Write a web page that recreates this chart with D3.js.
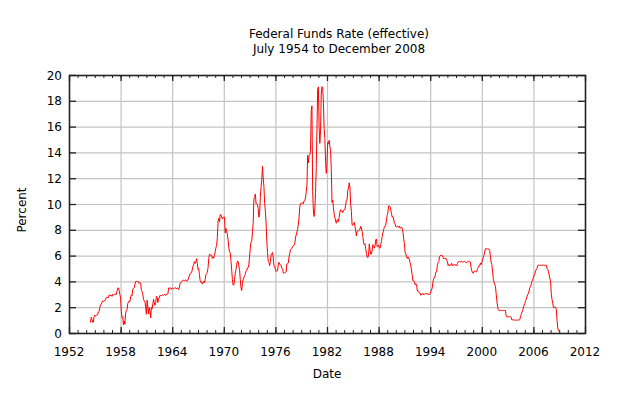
<!DOCTYPE html>
<html>
<head>
<meta charset="utf-8">
<script src="https://cdn.jsdelivr.net/npm/d3@7"></script>
<style>
  body { margin: 0; background: #fff; }
  text { font-family: "DejaVu Sans", sans-serif; font-size: 12px; fill: #000; }
</style>
</head>
<body>
<div id="chart"></div>
<script>
// monthly effective rate, starting July 1954
const startYear = 1954, startMonth = 7;
const rates = [
  0.80, 1.22, 1.06, 0.85, 0.83, 1.28,                                     // 1954
  1.39, 1.29, 1.35, 1.43, 1.43, 1.64, 1.68, 1.96, 2.18, 2.24, 2.35, 2.48, // 1955
  2.45, 2.50, 2.50, 2.62, 2.75, 2.71, 2.75, 2.73, 2.95, 2.96, 2.88, 2.94, // 1956
  2.84, 3.00, 2.96, 3.00, 3.00, 3.00, 2.99, 3.24, 3.47, 3.50, 3.28, 2.98, // 1957
  2.72, 1.67, 1.20, 1.26, 0.63, 0.93, 0.68, 1.53, 1.76, 1.80, 2.27, 2.42, // 1958
  2.48, 2.43, 2.80, 2.96, 2.90, 3.39, 3.47, 3.50, 3.76, 3.98, 4.00, 3.99, // 1959
  3.99, 3.97, 3.84, 3.92, 3.85, 3.32, 3.23, 2.98, 2.60, 2.47, 2.44, 1.98, // 1960
  1.45, 2.54, 2.02, 1.49, 1.98, 1.73, 1.17, 2.00, 1.88, 2.26, 2.61, 2.33, // 1961
  2.15, 2.37, 2.85, 2.78, 2.36, 2.68, 2.71, 2.93, 2.90, 2.90, 2.94, 2.93, // 1962
  2.92, 3.00, 2.98, 2.90, 3.00, 2.99, 3.02, 3.49, 3.48, 3.50, 3.48, 3.38, // 1963
  3.48, 3.48, 3.43, 3.47, 3.50, 3.50, 3.42, 3.50, 3.45, 3.36, 3.52, 3.85, // 1964
  3.90, 3.98, 4.04, 4.09, 4.10, 4.04, 4.09, 4.12, 4.01, 4.08, 4.10, 4.32, // 1965
  4.42, 4.60, 4.65, 4.67, 4.90, 5.17, 5.30, 5.53, 5.40, 5.53, 5.76, 5.40, // 1966
  4.94, 5.00, 4.53, 4.05, 3.94, 3.98, 3.79, 3.90, 3.99, 3.88, 4.13, 4.51, // 1967
  4.60, 4.71, 5.05, 5.76, 6.11, 6.07, 6.03, 6.03, 5.78, 5.91, 5.82, 6.02, // 1968
  6.30, 6.61, 6.79, 7.41, 8.67, 8.90, 8.61, 9.19, 9.15, 9.00, 8.85, 8.97, // 1969
  8.98, 8.98, 7.76, 8.10, 7.94, 7.60, 7.21, 6.61, 6.29, 6.20, 5.60, 4.90, // 1970
  4.14, 3.72, 3.71, 4.16, 4.63, 4.91, 5.31, 5.56, 5.55, 5.20, 4.91, 4.14, // 1971
  3.50, 3.29, 3.83, 4.17, 4.27, 4.46, 4.55, 4.80, 4.87, 5.04, 5.06, 5.33, // 1972
  5.94, 6.58, 7.09, 7.12, 7.84, 8.49, 10.40, 10.50, 10.78, 10.01, 10.03, 9.95, // 1973
  9.65, 8.97, 9.35, 10.51, 11.31, 11.93, 12.92, 12.01, 11.34, 10.06, 9.45, 8.53, // 1974
  7.13, 6.24, 5.54, 5.49, 5.22, 5.55, 6.10, 6.14, 6.24, 5.82, 5.22, 5.20, // 1975
  4.87, 4.77, 4.84, 4.82, 5.29, 5.48, 5.31, 5.29, 5.25, 5.02, 4.95, 4.65, // 1976
  4.61, 4.68, 4.69, 4.73, 5.35, 5.39, 5.42, 5.90, 6.14, 6.47, 6.51, 6.56, // 1977
  6.70, 6.78, 6.79, 6.89, 7.36, 7.60, 7.81, 8.04, 8.45, 8.96, 9.76, 10.03, // 1978
  10.07, 10.06, 10.09, 10.01, 10.24, 10.29, 10.47, 10.94, 11.43, 13.77, 13.18, 13.78, // 1979
  13.82, 14.13, 17.19, 17.61, 10.98, 9.47, 9.03, 9.61, 10.87, 12.81, 15.85, 18.90, // 1980
  19.08, 15.93, 14.70, 15.72, 18.52, 19.10, 19.04, 17.82, 15.87, 15.08, 13.31, 12.37, // 1981
  13.22, 14.78, 14.68, 14.94, 14.45, 14.15, 12.59, 10.12, 10.31, 9.71, 9.20, 8.95, // 1982
  8.68, 8.51, 8.77, 8.80, 8.63, 8.98, 9.37, 9.56, 9.45, 9.48, 9.34, 9.47, // 1983
  9.56, 9.59, 9.91, 10.29, 10.32, 11.06, 11.23, 11.64, 11.30, 9.99, 9.43, 8.38, // 1984
  8.35, 8.50, 8.58, 8.27, 7.97, 7.53, 7.88, 7.90, 7.92, 7.99, 8.05, 8.27, // 1985
  8.14, 7.86, 7.48, 6.99, 6.85, 6.92, 6.56, 6.17, 5.89, 5.85, 6.04, 6.91, // 1986
  6.43, 6.10, 6.13, 6.37, 6.85, 6.73, 6.58, 6.73, 7.22, 7.29, 6.69, 6.77, // 1987
  6.83, 6.58, 6.58, 6.87, 7.09, 7.51, 7.75, 8.01, 8.19, 8.30, 8.35, 8.76, // 1988
  9.12, 9.36, 9.85, 9.84, 9.81, 9.53, 9.24, 8.99, 9.02, 8.84, 8.55, 8.45, // 1989
  8.23, 8.24, 8.28, 8.26, 8.18, 8.29, 8.15, 8.13, 8.20, 8.11, 7.81, 7.31, // 1990
  6.91, 6.25, 6.12, 5.91, 5.78, 5.90, 5.82, 5.66, 5.45, 5.21, 4.81, 4.43, // 1991
  4.03, 4.06, 3.98, 3.73, 3.82, 3.76, 3.25, 3.30, 3.22, 3.10, 3.09, 2.92, // 1992
  3.02, 3.03, 3.07, 2.96, 3.00, 3.04, 3.06, 3.03, 3.09, 2.99, 3.02, 2.96, // 1993
  3.05, 3.25, 3.34, 3.56, 4.01, 4.25, 4.26, 4.47, 4.73, 4.76, 5.29, 5.45, // 1994
  5.53, 5.92, 5.98, 6.05, 6.01, 6.00, 5.85, 5.74, 5.80, 5.76, 5.80, 5.60, // 1995
  5.56, 5.22, 5.31, 5.22, 5.24, 5.27, 5.40, 5.22, 5.30, 5.24, 5.31, 5.29, // 1996
  5.25, 5.19, 5.39, 5.51, 5.50, 5.56, 5.52, 5.54, 5.54, 5.50, 5.52, 5.50, // 1997
  5.56, 5.51, 5.49, 5.45, 5.49, 5.56, 5.54, 5.55, 5.51, 5.07, 4.83, 4.68, // 1998
  4.63, 4.76, 4.81, 4.74, 4.74, 4.76, 4.99, 5.07, 5.22, 5.20, 5.42, 5.30, // 1999
  5.45, 5.73, 5.85, 6.02, 6.27, 6.53, 6.54, 6.50, 6.52, 6.51, 6.51, 6.40, // 2000
  5.98, 5.49, 5.31, 4.80, 4.21, 3.97, 3.77, 3.65, 3.07, 2.49, 2.09, 1.82, // 2001
  1.73, 1.74, 1.73, 1.75, 1.75, 1.75, 1.73, 1.74, 1.75, 1.75, 1.34, 1.24, // 2002
  1.24, 1.26, 1.25, 1.26, 1.26, 1.22, 1.01, 1.03, 1.01, 1.01, 1.00, 0.98, // 2003
  1.00, 1.01, 1.00, 1.00, 1.00, 1.03, 1.26, 1.43, 1.61, 1.76, 1.93, 2.16, // 2004
  2.28, 2.50, 2.63, 2.79, 3.00, 3.04, 3.26, 3.50, 3.62, 3.78, 4.00, 4.16, // 2005
  4.29, 4.49, 4.59, 4.79, 4.94, 4.99, 5.24, 5.25, 5.25, 5.25, 5.25, 5.24, // 2006
  5.25, 5.26, 5.26, 5.25, 5.25, 5.25, 5.26, 5.02, 4.94, 4.76, 4.49, 4.24, // 2007
  3.94, 2.98, 2.61, 2.28, 1.98, 2.00, 2.01, 2.00, 1.81, 0.97, 0.39, 0.16  // 2008
];
const xTicks = [1952, 1958, 1964, 1970, 1976, 1982, 1988, 1994, 2000, 2006, 2012];
const yTicks = [0, 2, 4, 6, 8, 10, 12, 14, 16, 18, 20];
const titleLines = ["Federal Funds Rate (effective)", "July 1954 to December 2008"];

const W = 620, H = 398;
const margin = { top: 75, right: 35, bottom: 65, left: 69 };
const width = W - margin.left - margin.right,
  height = H - margin.top - margin.bottom;

const data = rates.map((v, i) => ({
  t: startYear + (startMonth - 1 + i) / 12,
  v: v
}));

const svg = d3.select("#chart").append("svg")
  .attr("width", W).attr("height", H);

const g = svg.append("g")
  .attr("transform", `translate(${margin.left}, ${margin.top})`);

const x = d3.scaleLinear().domain([1952, 2012]).range([0, width]);
const y = d3.scaleLinear().domain([0, 20]).range([height, 0]);

// grid
g.append("g").selectAll("line")
  .data(xTicks.slice(1, -1))
  .join("line")
  .attr("x1", d => x(d) + 0.5).attr("x2", d => x(d) + 0.5)
  .attr("y1", 0).attr("y2", height)
  .attr("stroke", "#c4c4c4").attr("stroke-width", 1.2);
g.append("g").selectAll("line")
  .data(yTicks.slice(1, -1))
  .join("line")
  .attr("y1", d => y(d) + 0.5).attr("y2", d => y(d) + 0.5)
  .attr("x1", 0).attr("x2", width)
  .attr("stroke", "#c4c4c4").attr("stroke-width", 1.2);

// axes: ticks pointing inward on all four sides
const minor = d3.range(1953, 2012);
const tickG = g.append("g").attr("stroke", "#222").attr("stroke-width", 1);
tickG.selectAll(".minb").data(minor).join("line")
  .attr("x1", d => x(d) + 0.5).attr("x2", d => x(d) + 0.5)
  .attr("y1", height).attr("y2", height - 3);
tickG.selectAll(".mint").data(minor).join("line")
  .attr("x1", d => x(d) + 0.5).attr("x2", d => x(d) + 0.5)
  .attr("y1", 0).attr("y2", 3);
tickG.selectAll(".majb").data(xTicks).join("line")
  .attr("x1", d => x(d) + 0.5).attr("x2", d => x(d) + 0.5)
  .attr("y1", height).attr("y2", height - 6).attr("stroke-width", 1.3);
tickG.selectAll(".majt").data(xTicks).join("line")
  .attr("x1", d => x(d) + 0.5).attr("x2", d => x(d) + 0.5)
  .attr("y1", 0).attr("y2", 6).attr("stroke-width", 1.3);
tickG.selectAll(".yl").data(yTicks).join("line")
  .attr("y1", d => y(d) + 0.5).attr("y2", d => y(d) + 0.5)
  .attr("x1", 0).attr("x2", 7).attr("stroke-width", 1.3);
tickG.selectAll(".yr").data(yTicks).join("line")
  .attr("y1", d => y(d) + 0.5).attr("y2", d => y(d) + 0.5)
  .attr("x1", width).attr("x2", width - 7).attr("stroke-width", 1.3);

// tick labels
g.append("g").selectAll("text").data(xTicks).join("text")
  .attr("x", d => x(d)).attr("y", height + 23)
  .attr("text-anchor", "middle")
  .text(d => d);
g.append("g").selectAll("text").data(yTicks).join("text")
  .attr("x", -7).attr("y", d => y(d) + 4.5)
  .attr("text-anchor", "end")
  .text(d => d);

// the series
g.append("path")
  .datum(data)
  .attr("fill", "none")
  .attr("stroke", "#ff0000")
  .attr("stroke-width", 1)
  .attr("d", d3.line().x(d => x(d.t)).y(d => y(d.v)));

// border
g.append("rect")
  .attr("x", 0.5).attr("y", 0.5)
  .attr("width", width).attr("height", height)
  .attr("fill", "none").attr("stroke", "#222").attr("stroke-width", 1.6);

// labels
svg.selectAll(".title").data(titleLines).join("text")
  .attr("x", 339).attr("y", (d, i) => 38 + i * 15)
  .attr("text-anchor", "middle")
  .text(d => d);

svg.append("text")
  .attr("x", 327).attr("y", 378)
  .attr("text-anchor", "middle")
  .text("Date");

svg.append("text")
  .attr("transform", "translate(26, 210) rotate(-90)")
  .attr("text-anchor", "middle")
  .text("Percent");
</script>
</body>
</html>
